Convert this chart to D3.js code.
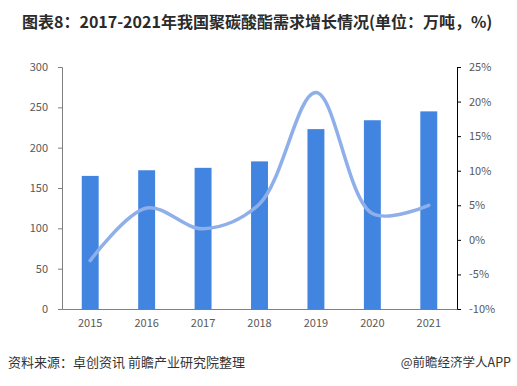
<!DOCTYPE html>
<html>
<head>
<meta charset="utf-8">
<script src="https://cdn.jsdelivr.net/npm/d3@7"></script>
<style>
  body { margin: 0; background: #fff; }
  svg text { font-family: "Microsoft YaHei", "Noto Sans CJK SC", sans-serif; }
</style>
</head>
<body>
<div id="chart"></div>
<script>
var years = ['2015', '2016', '2017', '2018', '2019', '2020', '2021'];
var demand = [165, 172, 175, 183, 223, 234, 245];
var growth = [-3.0, 4.6, 1.6, 5.2, 21.3, 3.8, 5.0];
var leftTicks = [0, 50, 100, 150, 200, 250, 300];
var rightTicks = [-10, -5, 0, 5, 10, 15, 20, 25];

var width = 517, height = 386;
var svg = d3.select('#chart').append('svg')
    .attr('width', width)
    .attr('height', height);

var plotLeft = 62, plotRight = 457, plotTop = 67, plotBottom = 309;

var x = d3.scaleBand().domain(years).range([plotLeft, plotRight]).paddingInner(0.7).paddingOuter(0.35);
var y = d3.scaleLinear().domain([0, 300]).range([plotBottom, plotTop]);
var y2 = d3.scaleLinear().domain([-10, 25]).range([plotBottom, plotTop]);

// title
svg.append('text')
    .attr('x', 22).attr('y', 28)
    .attr('font-size', 16).attr('font-weight', 'bold')
    .attr('fill', '#2b2b2b')
    .text('图表8：2017-2021年我国聚碳酸酯需求增长情况(单位：万吨，%)');

// bars
svg.selectAll('rect.bar')
    .data(demand)
    .enter()
    .append('rect')
    .attr('class', 'bar')
    .attr('x', function(d, i) { return x(years[i]); })
    .attr('width', x.bandwidth())
    .attr('y', function(d) { return y(d); })
    .attr('height', function(d) { return plotBottom - y(d); })
    .attr('fill', '#4285e1');

// growth line
var line = d3.line()
    .x(function(d, i) { return x(years[i]) + x.bandwidth() / 2; })
    .y(function(d) { return y2(d); })
    .curve(d3.curveCatmullRom.alpha(0.5));

svg.append('path')
    .datum(growth)
    .attr('d', line)
    .attr('fill', 'none')
    .attr('stroke', '#8eafe9')
    .attr('stroke-width', 3.5)
    .attr('stroke-linecap', 'round');

// left axis
var gl = svg.append('g')
    .attr('transform', 'translate(' + plotLeft + ',0)')
    .call(d3.axisLeft(y).tickValues(leftTicks).tickSize(4).tickPadding(10));
gl.select('.domain').attr('stroke', '#7f7f7f');
gl.selectAll('line').attr('stroke', '#7f7f7f');
gl.selectAll('text').attr('fill', '#595959').attr('font-size', 11);

// right axis
var gr = svg.append('g')
    .attr('transform', 'translate(' + plotRight + ',0)')
    .call(d3.axisRight(y2).tickValues(rightTicks).tickSize(4).tickPadding(8)
        .tickFormat(function(d) { return d + '%'; }));
gr.select('.domain').attr('stroke', '#000');
gr.selectAll('line').attr('stroke', '#000');
gr.selectAll('text').attr('fill', '#595959').attr('font-size', 11);

// bottom axis
var gb = svg.append('g')
    .attr('transform', 'translate(0,' + plotBottom + ')')
    .call(d3.axisBottom(x).tickSize(0).tickPadding(10));
gb.select('.domain').attr('stroke', '#7f7f7f');
gb.selectAll('text').attr('fill', '#595959').attr('font-size', 11);

// footer
svg.append('text')
    .attr('x', 8).attr('y', 367)
    .attr('font-size', 13).attr('fill', '#333')
    .text('资料来源：卓创资讯 前瞻产业研究院整理');
svg.append('text')
    .attr('x', 511).attr('y', 367)
    .attr('text-anchor', 'end')
    .attr('font-size', 12.5).attr('fill', '#333')
    .text('@前瞻经济学人APP');
</script>
</body>
</html>
